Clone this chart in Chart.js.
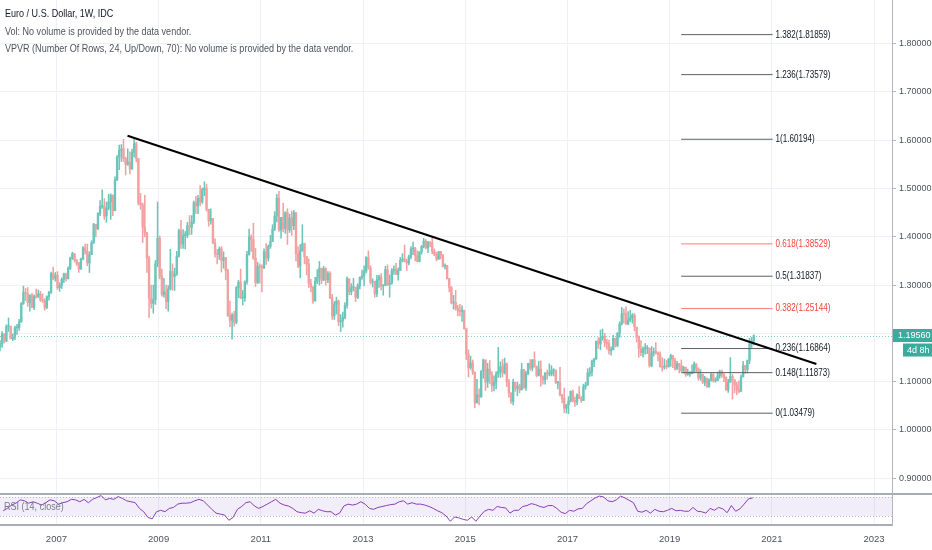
<!DOCTYPE html>
<html><head><meta charset="utf-8">
<script src="https://cdn.jsdelivr.net/npm/chart.js@4.4.0/dist/chart.umd.min.js"></script>
<style>
html,body{margin:0;padding:0;background:#fff;}
#wrap{position:relative;width:932px;height:550px;overflow:hidden;}
#hdr{position:absolute;left:5px;top:5px;font-family:'Liberation Sans',Arial,sans-serif;font-size:10.5px;line-height:17.5px;color:#50535e;white-space:nowrap;pointer-events:none;transform:scaleX(0.86);transform-origin:0 0;}
#hdr .t{color:#131722;}
</style></head><body>
<div id="wrap"><canvas id="c" width="932" height="550"></canvas>
<div id="hdr"><div class="t">Euro / U.S. Dollar, 1W, IDC</div><div>Vol: No volume is provided by the data vendor.</div><div>VPVR (Number Of Rows, 24, Up/Down, 70): No volume is provided by the data vendor.</div></div></div>
<script>
// ---- price data: half-month candles, late Nov 2005 .. late Aug 2020 ----
const firstOpen = 1.172;
const startT = 2005.896;
const stepT = 1 / 24;
const closes = [
1.179,1.199,1.184,
1.214,1.215,1.189,1.192,1.212,1.212,1.224,1.262,1.285,1.283,1.264,1.279,1.254,1.276,1.275,1.282,1.269,1.268,1.254,1.276,1.285,1.324,1.314,1.320,
1.295,1.300,1.312,1.323,1.313,1.335,1.356,1.365,1.352,1.345,1.333,1.354,1.377,1.370,1.346,1.363,1.388,1.426,1.417,1.448,1.463,1.463,1.443,1.459,
1.472,1.486,1.454,1.518,1.565,1.579,1.582,1.562,1.550,1.555,1.540,1.575,1.593,1.562,1.470,1.466,1.420,1.408,1.356,1.273,1.262,1.270,1.344,1.397,
1.318,1.281,1.286,1.266,1.292,1.328,1.318,1.323,1.360,1.413,1.385,1.403,1.403,1.423,1.420,1.431,1.471,1.464,1.480,1.472,1.498,1.501,1.457,1.433,
1.438,1.387,1.364,1.363,1.375,1.351,1.357,1.330,1.237,1.227,1.238,1.223,1.295,1.306,1.273,1.274,1.307,1.363,1.400,1.394,1.356,1.305,1.339,1.338,
1.336,1.369,1.356,1.380,1.390,1.416,1.443,1.480,1.414,1.440,1.417,1.450,1.414,1.439,1.423,1.450,1.365,1.339,1.371,1.386,1.359,1.344,1.303,1.296,
1.267,1.308,1.316,1.335,1.310,1.334,1.311,1.324,1.274,1.236,1.260,1.267,1.224,1.226,1.233,1.258,1.313,1.286,1.295,1.295,1.275,1.299,1.316,1.319,
1.329,1.357,1.336,1.306,1.308,1.282,1.311,1.317,1.298,1.299,1.332,1.301,1.304,1.330,1.333,1.322,1.330,1.352,1.354,1.349,1.346,1.359,1.375,1.376,
1.361,1.349,1.369,1.380,1.391,1.377,1.389,1.387,1.370,1.363,1.354,1.369,1.362,1.339,1.340,1.313,1.295,1.263,1.264,1.252,1.247,1.245,1.248,1.210,
1.157,1.129,1.139,1.120,1.056,1.073,1.068,1.122,1.145,1.099,1.126,1.115,1.092,1.099,1.116,1.121,1.131,1.118,1.137,1.100,1.077,1.059,1.099,1.086,
1.091,1.083,1.125,1.088,1.117,1.138,1.128,1.145,1.131,1.113,1.126,1.110,1.104,1.118,1.116,1.116,1.123,1.124,1.098,1.098,1.073,1.065,1.045,1.052,
1.060,1.080,1.061,1.058,1.073,1.065,1.061,1.090,1.093,1.118,1.120,1.142,1.147,1.184,1.178,1.191,1.194,1.181,1.179,1.164,1.166,1.190,1.175,1.200,
1.220,1.241,1.240,1.219,1.228,1.232,1.238,1.213,1.192,1.169,1.160,1.168,1.169,1.169,1.133,1.160,1.163,1.160,1.157,1.131,1.130,1.132,1.131,1.147,
1.154,1.145,1.126,1.137,1.133,1.122,1.130,1.115,1.116,1.117,1.121,1.137,1.127,1.108,1.115,1.099,1.107,1.090,1.103,1.115,1.102,1.102,1.112,1.121,
1.115,1.109,1.083,1.099,1.111,1.104,1.093,1.083,1.080,1.110,1.133,1.125,1.144,1.178,1.185,1.1956
];
const highs = [
1.185,1.204,1.199,
1.218,1.232,1.215,1.199,1.215,1.219,1.229,1.264,1.298,1.293,1.295,1.280,1.283,1.280,1.292,1.290,1.287,1.282,1.272,1.278,1.287,1.327,1.337,1.326,
1.328,1.305,1.315,1.325,1.325,1.338,1.358,1.368,1.364,1.353,1.347,1.356,1.380,1.385,1.385,1.369,1.392,1.428,1.426,1.450,1.475,1.497,1.479,1.472,
1.488,1.489,1.487,1.524,1.568,1.590,1.591,1.602,1.565,1.582,1.576,1.581,1.604,1.596,1.562,1.490,1.470,1.486,1.409,1.360,1.300,1.300,1.351,1.472,
1.402,1.333,1.314,1.300,1.299,1.374,1.344,1.335,1.370,1.416,1.434,1.415,1.411,1.430,1.444,1.444,1.474,1.484,1.486,1.506,1.501,1.514,1.509,1.457,
1.458,1.438,1.396,1.374,1.379,1.380,1.369,1.355,1.333,1.267,1.242,1.246,1.297,1.310,1.333,1.289,1.309,1.370,1.416,1.404,1.428,1.376,1.347,1.344,
1.342,1.375,1.386,1.383,1.403,1.425,1.452,1.488,1.494,1.440,1.470,1.452,1.458,1.447,1.453,1.455,1.446,1.380,1.384,1.425,1.387,1.353,1.354,1.312,
1.297,1.316,1.332,1.349,1.329,1.339,1.336,1.328,1.328,1.281,1.266,1.275,1.269,1.239,1.244,1.264,1.317,1.308,1.303,1.314,1.295,1.303,1.317,1.331,
1.340,1.359,1.371,1.340,1.313,1.306,1.320,1.321,1.324,1.301,1.339,1.342,1.321,1.334,1.340,1.345,1.336,1.357,1.365,1.383,1.354,1.362,1.380,1.389,
1.378,1.371,1.369,1.382,1.397,1.394,1.390,1.390,1.399,1.375,1.368,1.370,1.370,1.363,1.344,1.341,1.314,1.297,1.279,1.289,1.258,1.260,1.257,1.247,
1.211,1.166,1.153,1.145,1.120,1.105,1.085,1.123,1.147,1.144,1.138,1.144,1.121,1.112,1.121,1.171,1.141,1.146,1.149,1.139,1.105,1.077,1.105,1.099,
1.099,1.095,1.138,1.125,1.122,1.138,1.146,1.146,1.162,1.133,1.142,1.143,1.112,1.119,1.124,1.137,1.133,1.127,1.124,1.100,1.130,1.074,1.087,1.053,
1.069,1.081,1.083,1.068,1.075,1.090,1.069,1.095,1.099,1.127,1.129,1.145,1.149,1.184,1.191,1.207,1.209,1.200,1.188,1.186,1.172,1.196,1.190,1.202,
1.224,1.254,1.251,1.255,1.245,1.248,1.241,1.241,1.213,1.195,1.185,1.172,1.179,1.175,1.170,1.173,1.170,1.181,1.162,1.162,1.150,1.147,1.144,1.148,
1.157,1.154,1.149,1.142,1.138,1.145,1.132,1.130,1.126,1.121,1.135,1.141,1.137,1.129,1.125,1.116,1.111,1.108,1.106,1.118,1.117,1.108,1.120,1.124,
1.124,1.117,1.110,1.105,1.150,1.115,1.099,1.099,1.102,1.114,1.142,1.134,1.145,1.190,1.192,1.197
];
const lows = [
1.164,1.171,1.180,
1.183,1.204,1.188,1.185,1.187,1.198,1.206,1.223,1.260,1.268,1.256,1.246,1.253,1.249,1.273,1.275,1.266,1.264,1.248,1.251,1.269,1.283,1.311,1.308,
1.291,1.287,1.293,1.305,1.308,1.313,1.332,1.353,1.348,1.341,1.326,1.333,1.352,1.364,1.340,1.326,1.363,1.386,1.400,1.415,1.444,1.459,1.436,1.430,
1.456,1.436,1.444,1.454,1.516,1.539,1.556,1.556,1.528,1.548,1.530,1.540,1.565,1.555,1.466,1.457,1.388,1.400,1.326,1.233,1.252,1.242,1.260,1.338,
1.313,1.277,1.275,1.251,1.246,1.290,1.289,1.289,1.320,1.358,1.376,1.376,1.375,1.398,1.404,1.405,1.427,1.448,1.448,1.464,1.469,1.485,1.453,1.422,
1.426,1.386,1.358,1.344,1.353,1.327,1.335,1.311,1.235,1.214,1.188,1.215,1.220,1.274,1.272,1.259,1.266,1.302,1.362,1.370,1.353,1.297,1.303,1.304,
1.286,1.334,1.343,1.350,1.376,1.390,1.413,1.431,1.411,1.397,1.410,1.407,1.384,1.409,1.403,1.415,1.350,1.336,1.315,1.370,1.344,1.321,1.295,1.286,
1.262,1.269,1.303,1.300,1.303,1.310,1.300,1.305,1.272,1.229,1.229,1.240,1.216,1.204,1.213,1.230,1.252,1.280,1.280,1.288,1.266,1.272,1.292,1.312,
1.299,1.325,1.333,1.302,1.296,1.275,1.276,1.295,1.290,1.279,1.300,1.299,1.275,1.302,1.322,1.322,1.310,1.330,1.348,1.348,1.330,1.342,1.354,1.363,
1.350,1.348,1.348,1.364,1.377,1.375,1.367,1.379,1.365,1.361,1.350,1.353,1.354,1.337,1.333,1.313,1.286,1.261,1.250,1.248,1.236,1.236,1.225,1.209,
1.146,1.110,1.126,1.115,1.046,1.057,1.052,1.068,1.107,1.082,1.088,1.096,1.080,1.081,1.085,1.109,1.109,1.110,1.116,1.090,1.068,1.055,1.052,1.080,
1.071,1.077,1.083,1.086,1.082,1.114,1.124,1.122,1.130,1.110,1.112,1.091,1.095,1.095,1.105,1.112,1.112,1.112,1.096,1.085,1.070,1.056,1.036,1.035,
1.034,1.058,1.058,1.049,1.052,1.065,1.057,1.061,1.084,1.093,1.111,1.112,1.131,1.146,1.169,1.166,1.186,1.172,1.167,1.157,1.155,1.166,1.172,1.172,
1.192,1.217,1.221,1.219,1.218,1.224,1.221,1.205,1.182,1.151,1.154,1.151,1.157,1.158,1.130,1.131,1.153,1.157,1.143,1.130,1.122,1.126,1.127,1.130,
1.132,1.129,1.124,1.126,1.118,1.121,1.118,1.111,1.113,1.111,1.116,1.118,1.119,1.103,1.103,1.096,1.092,1.088,1.088,1.101,1.099,1.099,1.103,1.107,
1.109,1.100,1.082,1.078,1.099,1.064,1.077,1.073,1.077,1.087,1.110,1.117,1.118,1.137,1.171,1.176
];

// ---- RSI (14, close), monthly readings, Dec 2005 .. Aug 2020 ----
const rsiStartT = 2005.958;
const rsiStepT = 1 / 12;
const rsiValues = [
41,46,53,57,64,62,57,60,57,53,58,64,
62,55,58,60,65,64,60,65,58,65,69,73,
64,67,65,71,67,62,60,58,46,39,27,24,
39,42,39,46,48,55,57,57,58,62,65,62,
53,44,36,34,32,21,27,44,50,58,60,51,
46,50,55,60,65,57,53,51,46,39,37,36,
41,36,44,41,39,39,32,36,51,55,53,55,
60,55,46,44,48,50,52,54,55,60,62,55,
58,55,55,53,50,46,41,37,30,19,28,26,
23,21,28,19,30,40,44,42,50,48,47,36,
42,42,50,52,56,54,50,48,52,52,46,38,
35,42,40,45,46,56,62,68,72,70,62,60,
64,72,68,63,58,40,38,42,36,44,40,39,
42,46,41,42,40,40,48,40,39,36,46,42,
48,45,37,52,40,45,55,66,68
];
const rsiBand = [30, 70];
const rsiPaneTop = 76.3;

// ---- axes ----
const yearTicks = [2007, 2009, 2011, 2013, 2015, 2017, 2019, 2021, 2023];
const priceTicks = [0.9, 1.0, 1.1, 1.2, 1.3, 1.4, 1.5, 1.6, 1.7, 1.8];
const xRange = [2005.896, 2023.351];
const priceRange = [0.80331, 1.89027];
const rsiRange = [11.05, 1116.3];

// ---- drawings ----
const fibLevels = ['1.382', '1.236', '1', '0.618', '0.5', '0.382', '0.236', '0.148', '0'];
const fibPrices = [1.81859, 1.73579, 1.60194, 1.38529, 1.31837, 1.25144, 1.16864, 1.11873, 1.03479];
const fibRed = [false, false, false, true, false, true, false, false, false];
const fibRange = [2019.226, 2021.015];
const trendT = [2008.392, 2021.871];
const trendP = [1.6093, 1.1366];
const lastPriceLabel = '1.19560';
const countdownLabel = '4d 8h';

const FONT = "'Liberation Sans',Arial,sans-serif";
const UP = '#6cc5b9', DOWN = '#f2a0a0';

const opens = closes.map((c, i) => i === 0 ? firstOpen : closes[i - 1]);
const times = closes.map((c, i) => startT + i * stepT);
const candleColors = closes.map((c, i) => c >= opens[i] ? UP : DOWN);
const wickData = closes.map((c, i) => ({x: times[i], y: [Math.min(lows[i], opens[i], c), Math.max(highs[i], opens[i], c)]}));
const bodyData = closes.map((c, i) => ({x: times[i], y: [opens[i], c]}));
const rsiData = rsiValues.map((v, i) => ({x: rsiStartT + i * rsiStepT, y: v}));

const fibDatasets = fibPrices.map((p, i) => ({
  type: 'line', label: 'fib ' + fibLevels[i],
  data: [{x: fibRange[0], y: p}, {x: fibRange[1], y: p}],
  borderColor: fibRed[i] ? '#f47f7f' : '#5d6068', borderWidth: 1,
  pointRadius: 0, order: 1, yAxisID: 'y'
}));

const panePlugin = {
  id: 'pane',
  beforeDatasetsDraw(chart) {
    const {ctx, chartArea: a, scales} = chart;
    const rsi = scales.yRsi, y = scales.y;
    const yTop = rsi.getPixelForValue(rsiBand[1]);
    const yBot = rsi.getPixelForValue(rsiBand[0]);
    ctx.save();
    ctx.fillStyle = 'rgba(126,87,194,0.10)';
    ctx.fillRect(a.left, yTop, a.right - a.left, yBot - yTop);
    ctx.strokeStyle = '#b8bbc4'; ctx.lineWidth = 1; ctx.setLineDash([1, 2]);
    [yTop, yBot].forEach(v => { ctx.beginPath(); ctx.moveTo(a.left, Math.round(v) + 0.5); ctx.lineTo(a.right, Math.round(v) + 0.5); ctx.stroke(); });
    // last price line
    const yp = Math.round(y.getPixelForValue(closes[closes.length - 1])) + 0.5;
    ctx.strokeStyle = 'rgba(38,166,154,0.55)';
    ctx.beginPath(); ctx.moveTo(a.left, yp); ctx.lineTo(a.right, yp); ctx.stroke();
    ctx.setLineDash([]);
    // pane separator
    const ys = rsi.getPixelForValue(rsiPaneTop);
    ctx.strokeStyle = '#a9acb5'; ctx.lineWidth = 2;
    ctx.beginPath(); ctx.moveTo(0, ys); ctx.lineTo(chart.width, ys); ctx.stroke();
    ctx.restore();
  },
  afterDraw(chart) {
    const {ctx, chartArea: a, scales} = chart;
    const x = scales.x, y = scales.y, rsi = scales.yRsi;
    ctx.save();
    ctx.textBaseline = 'middle';
    ctx.textAlign = 'left';
    // fib labels (condensed like the reference)
    ctx.font = '10.5px ' + FONT;
    const lx = x.getPixelForValue(fibRange[1]) + 3;
    fibPrices.forEach((p, i) => {
      ctx.fillStyle = fibRed[i] ? '#f0453f' : '#131722';
      ctx.save();
      ctx.translate(lx, y.getPixelForValue(p));
      ctx.scale(0.77, 1);
      ctx.fillText(fibLevels[i] + '(' + p.toFixed(5) + ')', 0, 0);
      ctx.restore();
    });
    // RSI label
    ctx.save();
    ctx.font = '10.5px ' + FONT;
    ctx.fillStyle = '#787b86';
    ctx.translate(4, rsi.getPixelForValue(48));
    ctx.scale(0.86, 1);
    ctx.fillText('RSI (14, close)', 0, 0);
    ctx.restore();
    // last price box
    const yp = y.getPixelForValue(closes[closes.length - 1]);
    ctx.font = '9px ' + FONT;
    ctx.fillStyle = '#3aab9d';
    ctx.fillRect(a.right + 1, yp - 6.5, chart.width - a.right - 1, 13);
    ctx.fillRect(a.right + 11, yp + 8, chart.width - a.right - 11, 13);
    ctx.fillStyle = '#ffffff';
    ctx.fillText(lastPriceLabel, a.right + 6, yp);
    ctx.fillText(countdownLabel, a.right + 15, yp + 14.5);
    ctx.restore();
  }
};

new Chart(document.getElementById('c'), {
  type: 'bar',
  data: {
    datasets: [
      {type: 'line', label: 'trend', data: trendT.map((t, i) => ({x: t, y: trendP[i]})), borderColor: '#000000', borderWidth: 2, pointRadius: 0, order: 0, yAxisID: 'y'},
      ...fibDatasets,
      {type: 'bar', label: 'body', data: bodyData, backgroundColor: candleColors, barThickness: 1.7, minBarLength: 1, grouped: false, order: 2, yAxisID: 'y'},
      {type: 'bar', label: 'wick', data: wickData, backgroundColor: candleColors, barThickness: 0.9, grouped: false, order: 3, yAxisID: 'y'},
      {type: 'line', label: 'RSI', data: rsiData, borderColor: '#8a3db6', borderWidth: 1, pointRadius: 0, tension: 0, order: 4, yAxisID: 'yRsi'}
    ]
  },
  options: {
    responsive: false, animation: false, events: [],
    layout: {padding: 0},
    plugins: {legend: {display: false}, tooltip: {enabled: false}},
    scales: {
      x: {
        type: 'linear', min: xRange[0], max: xRange[1], offset: false,
        grid: {color: '#eef1f7', offset: false, drawTicks: false},
        border: {display: true, color: '#a9acb5', width: 2},
        ticks: {font: {family: FONT, size: 9.5}, color: '#4c525e', padding: 9, maxRotation: 0, autoSkip: false, callback: v => String(v)},
        afterBuildTicks: s => { s.ticks = yearTicks.map(v => ({value: v})); },
        afterFit: s => { s.height = 25; s.paddingLeft = 0; s.paddingRight = 0; }
      },
      y: {
        type: 'linear', position: 'right', min: priceRange[0], max: priceRange[1],
        grid: {color: '#eef1f7', tickLength: 4, tickColor: '#b2b5be'},
        border: {display: true, color: '#b2b5be', width: 1},
        ticks: {font: {family: FONT, size: 9}, color: '#4c525e', padding: 3, autoSkip: false, callback: v => Number(v).toFixed(5)},
        afterBuildTicks: s => { s.ticks = priceTicks.map(v => ({value: v})); },
        afterFit: s => { s.width = 40; s.paddingTop = 0; s.paddingBottom = 0; }
      },
      yRsi: {type: 'linear', axis: 'y', position: 'right', display: false, min: rsiRange[0], max: rsiRange[1]}
    }
  },
  plugins: [panePlugin]
});
</script>
</body></html>
